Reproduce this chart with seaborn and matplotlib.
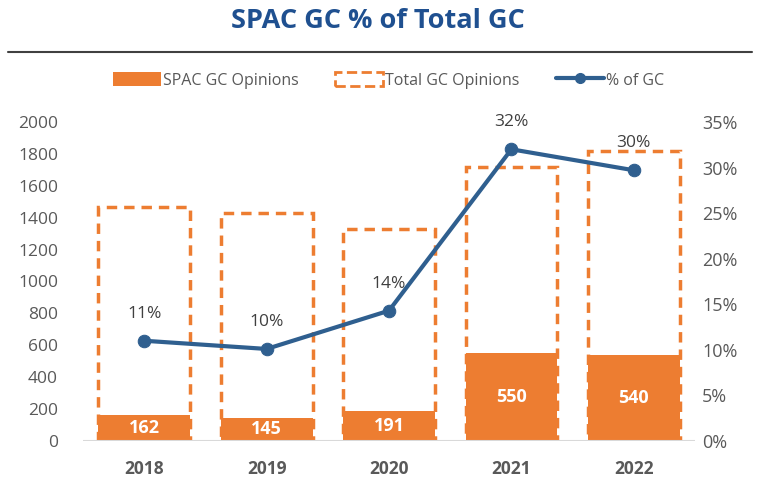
import numpy as np
import matplotlib.pyplot as plt
import seaborn as sns
from matplotlib.patches import Patch
from matplotlib.lines import Line2D

years = ['2018', '2019', '2020', '2021', '2022']
spac_gc = [162, 145, 191, 550, 540]
total_gc = [1467, 1432, 1330, 1718, 1818]
pct_gc = [0.110, 0.101, 0.143, 0.320, 0.297]
pct_labels = ['11%', '10%', '14%', '32%', '30%']

orange = '#ED7D31'
blue = '#2F5F8F'
gray = '#595959'

sns.set_style('white')
plt.rcParams['font.family'] = ['Open Sans', 'DejaVu Sans']

fig = plt.figure(figsize=(7.65, 4.82), dpi=100)
ax = fig.add_axes([0.1085, 0.085, 0.80, 0.662])

# dashed outline bars for total
sns.barplot(x=years, y=total_gc, ax=ax, color=orange, width=0.75, saturation=1)
for p in ax.patches:
    p.set_facecolor('none')
    p.set_edgecolor(orange)
    p.set_linestyle((0, (3, 2)))
    p.set_linewidth(2.5)
n_total = len(ax.patches)

# filled SPAC bars
sns.barplot(x=years, y=spac_gc, ax=ax, color=orange, width=0.75, saturation=1)
for p, v in zip(ax.patches[n_total:], spac_gc):
    p.set_edgecolor('none')
    p.set_zorder(3)
    ax.text(p.get_x() + p.get_width() / 2, v / 2, str(v), ha='center', va='center',
            color='white', fontsize=13, fontweight='bold', zorder=4)

ax.set_ylim(0, 2000)
ax.set_xlim(-0.5, 4.5)
ax.set_yticks(np.arange(0, 2001, 200))
ax.axhline(0, color='#D9D9D9', lw=1.5, zorder=5)
ax.tick_params(axis='y', labelsize=12.5, labelcolor=gray, length=0, pad=18)
ax.tick_params(axis='x', labelsize=12.5, labelcolor=gray, length=0, pad=14)
for t in ax.get_xticklabels():
    t.set_fontweight('bold')
ax.set_xlabel('')
ax.set_ylabel('')
sns.despine(ax=ax, left=True, bottom=True)

# percentage line on secondary axis
ax2 = ax.twinx()
sns.lineplot(x=np.arange(len(years)), y=pct_gc, ax=ax2, color=blue, lw=3,
             marker='o', markersize=9, markeredgecolor=blue, zorder=6)
for i, (v, lab) in enumerate(zip(pct_gc, pct_labels)):
    ax2.text(i, v + 0.021, lab, ha='center', va='bottom', fontsize=12.5, color='#404040')
ax2.set_ylim(0, 0.35)
ax2.set_yticks(np.arange(0, 0.351, 0.05))
ax2.set_yticklabels([f'{int(round(t * 100))}%' for t in np.arange(0, 0.351, 0.05)])
ax2.tick_params(axis='y', labelsize=13, labelcolor=gray, length=0, pad=5)
sns.despine(ax=ax2, left=True, bottom=True, right=True)

# title and rule
fig.text(0.494, 0.957, 'SPAC GC % of Total GC', ha='center', va='center',
         fontsize=19.5, fontweight='bold', color='#1F5090')
fig.add_artist(Line2D([0.01, 0.983], [0.892, 0.892], color='#404040', lw=1.5))

handles = [
    Patch(facecolor=orange, edgecolor='none'),
    Patch(facecolor='none', edgecolor=orange, linestyle='--', linewidth=2),
    Line2D([0], [0], color=blue, lw=3, marker='o', markersize=7),
]
fig.legend(handles, ['SPAC GC Opinions', 'Total GC Opinions', '% of GC'],
           loc='center', bbox_to_anchor=(0.508, 0.833), ncol=3, frameon=False,
           fontsize=11.5, labelcolor=gray, handlelength=3, handleheight=1.0,
           handletextpad=0.1, columnspacing=2.3)

fig.savefig('out.png', dpi=100)
